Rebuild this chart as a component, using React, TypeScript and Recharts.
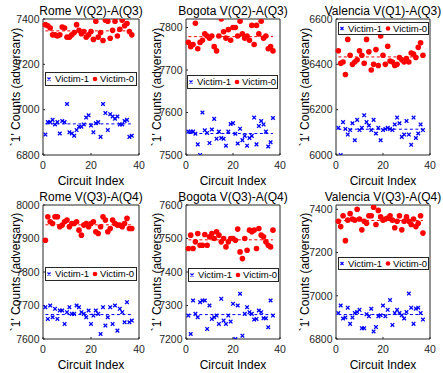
import { ScatterChart, Scatter, XAxis, YAxis, ReferenceArea, ReferenceLine } from 'recharts'

const FONT = '"Liberation Sans", Arial, Helvetica, sans-serif'
const AXIS_COLOR = '#262626'
const RED = '#ff0000'
const BLUE = '#0000ff'

// x values: circuit index
const circuitIndex = [1, 2, 3, 4, 5, 6, 7, 8, 9, 10, 11, 12, 13, 14, 15, 16, 17, 18, 19, 20, 21, 22, 23, 24, 25, 26, 27, 28, 29, 30, 31, 32, 33, 34, 35, 36, 37]
const xTicks = [0, 20, 40]

// Rome V(Q2)-A(Q3)
const romeQ2Victim0 = [7375, 7370, 7360, 7330, 7330, 7325, 7330, 7365, 7360, 7320, 7320, 7330, 7340, 7375, 7350, 7335, 7345, 7320, 7330, 7345, 7310, 7390, 7320, 7340, 7305, 7395, 7390, 7315, 7350, 7390, 7325, 7355, 7395, 7370, 7380, 7345, 7330]
const romeQ2Victim1 = [6890, 6945, 6945, 6955, 6935, 6945, 6895, 6950, 6945, 7025, 6900, 6895, 6885, 6910, 6925, 6925, 6935, 6965, 6975, 6930, 6900, 6940, 6945, 6880, 7025, 6985, 6910, 6980, 6970, 6960, 6970, 6935, 6935, 6950, 6955, 6880, 6885]
const romeQ2Ticks = [6800, 7000, 7200, 7400]

// Bogota V(Q2)-A(Q3)
const bogotaQ2Victim0 = [7765, 7755, 7760, 7810, 7750, 7765, 7770, 7785, 7780, 7775, 7780, 7755, 7745, 7780, 7820, 7790, 7775, 7795, 7770, 7800, 7800, 7780, 7815, 7785, 7775, 7780, 7770, 7805, 7760, 7805, 7785, 7815, 7775, 7780, 7750, 7755, 7745]
const bogotaQ2Victim1 = [7555, 7555, 7555, 7550, 7525, 7500, 7600, 7558, 7552, 7528, 7560, 7585, 7538, 7555, 7540, 7538, 7522, 7555, 7573, 7575, 7550, 7527, 7562, 7535, 7545, 7522, 7540, 7545, 7588, 7525, 7568, 7580, 7572, 7555, 7520, 7530, 7587]
const bogotaQ2Ticks = [7500, 7600, 7700, 7800]

// Valencia V(Q1)-A(Q3)
const valenciaQ1Victim0 = [6460, 6405, 6410, 6355, 6510, 6440, 6400, 6410, 6420, 6460, 6440, 6405, 6510, 6455, 6375, 6400, 6465, 6395, 6525, 6440, 6400, 6480, 6415, 6410, 6395, 6400, 6430, 6420, 6410, 6425, 6410, 6450, 6445, 6430, 6475, 6495, 6440]
const valenciaQ1Victim1 = [6120, 6000, 6145, 6115, 6090, 6110, 6140, 6065, 6155, 6110, 6120, 6175, 6145, 6130, 6110, 6155, 6095, 6120, 6065, 6110, 6115, 6120, 6115, 6110, 6135, 6165, 6140, 6080, 6090, 6150, 6090, 6045, 6165, 6075, 6095, 6135, 6110]
const valenciaQ1Ticks = [6000, 6200, 6400, 6600]

// Rome V(Q3)-A(Q4)
const romeQ3Victim0 = [7895, 7965, 7950, 7945, 7965, 7965, 7935, 7940, 7950, 7955, 7935, 7945, 7945, 7950, 7925, 7910, 7940, 7945, 7935, 7945, 7950, 7920, 7915, 7935, 7965, 7955, 7920, 7930, 7955, 7945, 7940, 7940, 7935, 7945, 7960, 7930, 7930]
const romeQ3Victim1 = [7695, 7660, 7700, 7665, 7690, 7660, 7685, 7685, 7645, 7680, 7695, 7675, 7675, 7700, 7695, 7680, 7675, 7665, 7685, 7645, 7670, 7685, 7675, 7615, 7695, 7640, 7665, 7695, 7645, 7700, 7625, 7690, 7680, 7650, 7710, 7650, 7655]
const romeQ3Ticks = [7600, 7700, 7800, 7900, 8000]

// Bogota V(Q3)-A(Q4)
const bogotaQ3Victim0 = [7470, 7510, 7470, 7490, 7515, 7480, 7480, 7512, 7480, 7505, 7515, 7500, 7520, 7510, 7490, 7500, 7475, 7490, 7500, 7500, 7495, 7528, 7460, 7440, 7500, 7465, 7525, 7520, 7525, 7470, 7530, 7510, 7505, 7490, 7480, 7475, 7525]
const bogotaQ3Victim1 = [7270, 7215, 7315, 7275, 7265, 7310, 7315, 7315, 7230, 7300, 7260, 7265, 7270, 7245, 7320, 7255, 7245, 7270, 7252, 7305, 7200, 7300, 7335, 7210, 7275, 7295, 7280, 7275, 7258, 7260, 7285, 7280, 7262, 7262, 7235, 7315, 7270]
const bogotaQ3Ticks = [7200, 7300, 7400, 7500, 7600]

// Valencia V(Q3)-A(Q4)
const valenciaQ3Victim0 = [7345, 7320, 7370, 7255, 7350, 7380, 7355, 7350, 7400, 7355, 7305, 7345, 7335, 7370, 7370, 7410, 7330, 7395, 7365, 7350, 7355, 7360, 7370, 7350, 7315, 7345, 7370, 7305, 7345, 7365, 7345, 7330, 7355, 7320, 7335, 7370, 7290]
const valenciaQ3Victim1 = [6920, 6955, 6895, 6900, 6945, 6870, 6900, 6920, 6925, 6935, 6850, 6850, 6915, 6905, 6940, 6835, 6855, 6905, 6910, 6955, 6905, 6935, 6980, 6865, 6920, 6935, 6920, 6910, 6895, 6925, 7010, 6945, 6870, 6940, 6945, 6920, 6890]
const valenciaQ3Ticks = [6800, 7000, 7200, 7400]

interface Box { left: number; top: number; w: number; h: number }
interface PanelCfg {
  title: string
  victim0: number[]
  victim1: number[]
  yDomain: [number, number]
  yTicks: number[]
  box: Box
  legend: Box
  yLabelX: number
}

const ROW1 = { top: 19, h: 136 }
const ROW2 = { top: 205, h: 134 }

const panels: PanelCfg[] = [
  { title: 'Rome V(Q2)-A(Q3)', victim0: romeQ2Victim0, victim1: romeQ2Victim1, yDomain: [6800, 7400], yTicks: romeQ2Ticks,
    box: { left: 43, top: ROW1.top, w: 96, h: ROW1.h }, legend: { left: 45, top: 72, w: 92, h: 14 }, yLabelX: 16 },
  { title: 'Bogota V(Q2)-A(Q3)', victim0: bogotaQ2Victim0, victim1: bogotaQ2Victim1, yDomain: [7500, 7820], yTicks: bogotaQ2Ticks,
    box: { left: 186, top: ROW1.top, w: 94, h: ROW1.h }, legend: { left: 187, top: 75, w: 91, h: 14 }, yLabelX: 157 },
  { title: 'Valencia V(Q1)-A(Q3)', victim0: valenciaQ1Victim0, victim1: valenciaQ1Victim1, yDomain: [6000, 6600], yTicks: valenciaQ1Ticks,
    box: { left: 336, top: ROW1.top, w: 94, h: ROW1.h }, legend: { left: 338, top: 22, w: 91, h: 13 }, yLabelX: 305 },
  { title: 'Rome V(Q3)-A(Q4)', victim0: romeQ3Victim0, victim1: romeQ3Victim1, yDomain: [7600, 8000], yTicks: romeQ3Ticks,
    box: { left: 43, top: ROW2.top, w: 96, h: ROW2.h }, legend: { left: 45, top: 267, w: 92, h: 14 }, yLabelX: 16 },
  { title: 'Bogota V(Q3)-A(Q4)', victim0: bogotaQ3Victim0, victim1: bogotaQ3Victim1, yDomain: [7200, 7600], yTicks: bogotaQ3Ticks,
    box: { left: 186, top: ROW2.top, w: 94, h: ROW2.h }, legend: { left: 188, top: 268, w: 91, h: 14 }, yLabelX: 157 },
  { title: 'Valencia V(Q3)-A(Q4)', victim0: valenciaQ3Victim0, victim1: valenciaQ3Victim1, yDomain: [6800, 7420], yTicks: valenciaQ3Ticks,
    box: { left: 336, top: ROW2.top, w: 94, h: ROW2.h }, legend: { left: 338, top: 257, w: 91, h: 13 }, yLabelX: 305 },
]

const Y_AXIS_W = 40
const TOP_PAD = 6
const RIGHT_PAD = 6
const X_AXIS_H = 24

const mean = (arr: number[]) => arr.reduce((s, v) => s + v, 0) / arr.length

function Dot(props: any) {
  const { cx, cy } = props
  if (cx == null || cy == null) return <g />
  return <circle cx={cx} cy={cy} r={2.8} fill={RED} />
}

function Cross(props: any) {
  const { cx, cy } = props
  if (cx == null || cy == null) return <g />
  const s = 1.8
  return (
    <path
      d={`M${cx - s},${cy - s}L${cx + s},${cy + s}M${cx - s},${cy + s}L${cx + s},${cy - s}`}
      stroke={BLUE}
      strokeWidth={1.3}
      fill="none"
    />
  )
}

function PanelLegend({ box }: { box: Box }) {
  return (
    <div
      style={{
        position: 'absolute',
        left: box.left,
        top: box.top,
        width: box.w,
        height: box.h,
        boxSizing: 'border-box',
        border: `1px solid ${AXIS_COLOR}`,
        background: '#fff',
        fontFamily: FONT,
        fontSize: 9.5,
        color: '#000',
        overflow: 'hidden',
      }}
    >
      <svg width={box.w} height={box.h} style={{ position: 'absolute', left: -1, top: -1 }}>
        <path d={`M${2.5},${box.h / 2 - 1.5}L${5.5},${box.h / 2 + 1.5}M${2.5},${box.h / 2 + 1.5}L${5.5},${box.h / 2 - 1.5}`} stroke={BLUE} strokeWidth={1.2} />
        <circle cx={50} cy={box.h / 2} r={2.3} fill={RED} />
      </svg>
      <span style={{ position: 'absolute', left: 9, top: 0, lineHeight: `${box.h - 2}px` }}>Victim-1</span>
      <span style={{ position: 'absolute', left: 54, top: 0, lineHeight: `${box.h - 2}px`, whiteSpace: 'nowrap' }}>Victim-0</span>
    </div>
  )
}

function Panel({ cfg }: { cfg: PanelCfg }) {
  const { box } = cfg
  const width = box.w + Y_AXIS_W + RIGHT_PAD
  const height = box.h + TOP_PAD + X_AXIS_H
  const red = circuitIndex.map((x, i) => ({ x, y: cfg.victim0[i] }))
  const blue = circuitIndex.map((x, i) => ({ x, y: cfg.victim1[i] }))
  const m0 = mean(cfg.victim0)
  const m1 = mean(cfg.victim1)
  const first = circuitIndex[0]
  const last = circuitIndex[circuitIndex.length - 1]
  const tickStyle = { fontSize: 10.5, fill: AXIS_COLOR, fontFamily: FONT }
  const textBase = { position: 'absolute' as const, fontFamily: FONT, fontSize: 12, lineHeight: '14px', color: '#000', whiteSpace: 'nowrap' as const }

  return (
    <>
      <div style={{ position: 'absolute', left: box.left - Y_AXIS_W, top: box.top - TOP_PAD }}>
        <ScatterChart width={width} height={height} margin={{ top: TOP_PAD, right: RIGHT_PAD, bottom: 0, left: 0 }}>
          <XAxis
            type="number"
            dataKey="x"
            domain={[0, 40]}
            ticks={xTicks}
            height={X_AXIS_H}
            axisLine={false}
            tickSize={-2}
            tickMargin={9}
            tickLine={{ stroke: AXIS_COLOR }}
            tick={tickStyle}
            interval={0}
          />
          <YAxis
            type="number"
            dataKey="y"
            domain={cfg.yDomain}
            ticks={cfg.yTicks}
            width={Y_AXIS_W}
            axisLine={false}
            tickSize={-2}
            tickMargin={5.5}
            tickLine={{ stroke: AXIS_COLOR }}
            tick={tickStyle}
            interval={0}
            allowDataOverflow
          />
          <Scatter data={blue} shape={Cross} isAnimationActive={false} />
          <Scatter data={red} shape={Dot} isAnimationActive={false} />
          <ReferenceLine segment={[{ x: first, y: m0 }, { x: last, y: m0 }]} stroke={RED} strokeDasharray="3 2.5" strokeWidth={1} />
          <ReferenceLine segment={[{ x: first, y: m1 }, { x: last, y: m1 }]} stroke={BLUE} strokeDasharray="3 2.5" strokeWidth={1} />
          <ReferenceArea x1={0} x2={40} y1={cfg.yDomain[0]} y2={cfg.yDomain[1]} fill="none" stroke={AXIS_COLOR} strokeWidth={1} fillOpacity={0} />
        </ScatterChart>
      </div>
      <div style={{ ...textBase, left: box.left + box.w / 2, top: box.top - 15.5, transform: 'translateX(-50%)' }}>{cfg.title}</div>
      <div style={{ ...textBase, left: box.left + box.w / 2, top: box.top + box.h + 19, transform: 'translateX(-50%)' }}>Circuit Index</div>
      <div
        style={{
          ...textBase,
          left: cfg.yLabelX,
          top: box.top + box.h / 2,
          transform: 'translate(-50%, -50%) rotate(-90deg)',
        }}
      >
        `1' Counts (adversary)
      </div>
      <PanelLegend box={cfg.legend} />
    </>
  )
}

export default function App() {
  return (
    <div style={{ position: 'fixed', left: 0, top: 0, width: 443, height: 373, background: '#fff', overflow: 'hidden' }}>
      {panels.map(p => (
        <Panel key={p.title} cfg={p} />
      ))}
    </div>
  )
}
